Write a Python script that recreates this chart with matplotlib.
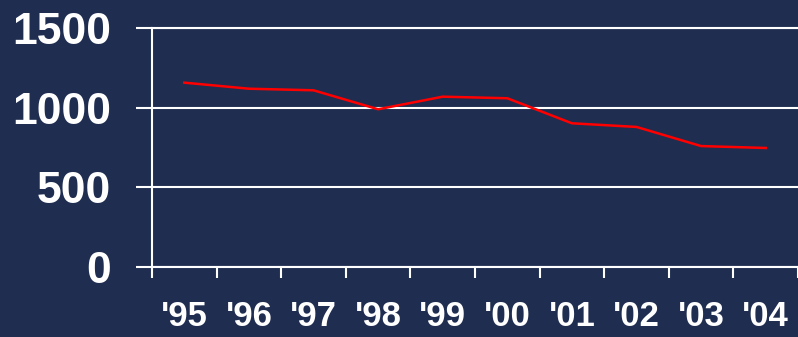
import numpy as np
import matplotlib.pyplot as plt

years = ["'95", "'96", "'97", "'98", "'99", "'00", "'01", "'02", "'03", "'04"]
values = [1157, 1119, 1109, 990, 1069, 1059, 902, 879, 759, 747]
y_ticks = [0, 500, 1000, 1500]

bg = '#1f2d51'
plt.rcParams['font.family'] = ['Liberation Sans', 'DejaVu Sans']

fig = plt.figure(figsize=(7.98, 3.37), dpi=100, facecolor=bg)
ax = fig.add_axes([152 / 798, 1 - 267 / 337, 646 / 798, 239 / 337])
ax.set_facecolor(bg)

x = np.arange(len(years))
ax.plot(x, values, color='#ff0000', lw=1.8, zorder=3)

ax.set_xlim(-0.5, len(years) - 0.5)
ax.set_ylim(0, 1500)

# labels sit in the middle of each slot, tick marks on the slot borders
ax.set_xticks(x)
ax.set_xticklabels(years, fontsize=25, fontweight='bold', color='white')
ax.tick_params(axis='x', which='major', length=0, pad=24)
ax.set_xticks(np.arange(len(years) + 1) - 0.5, minor=True)
ax.tick_params(axis='x', which='minor', length=8, width=1.5, color='white', direction='out')

ax.set_yticks(y_ticks)
ax.set_yticklabels([str(v) for v in y_ticks], fontsize=32, fontweight='bold', color='white')
ax.tick_params(axis='y', length=11.5, width=1.5, color='white', pad=18)

ax.grid(axis='y', color='white', lw=1.5)
ax.set_axisbelow(True)

for side in ['left', 'bottom', 'top']:
    ax.spines[side].set_color('white')
    ax.spines[side].set_linewidth(1.5)
ax.spines['right'].set_visible(False)

fig.savefig('out.png', dpi=100, facecolor=bg)
